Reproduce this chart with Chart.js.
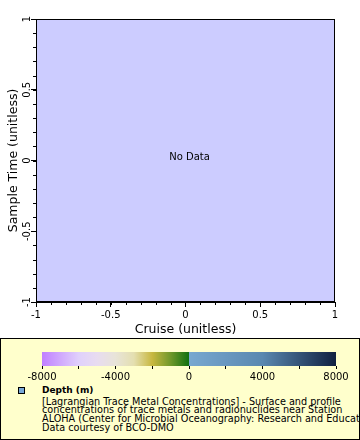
<!DOCTYPE html>
<html><head><meta charset="utf-8">
<script src="https://cdn.jsdelivr.net/npm/chart.js@4/dist/chart.umd.min.js"></script>
<style>
html,body{margin:0;padding:0;background:#fff;}
#wrap{position:relative;width:360px;height:440px;overflow:hidden;font-family:"DejaVu Sans",sans-serif;color:#000;}
#main{position:absolute;left:0;top:0;}
#legend{position:absolute;left:0;top:338px;width:358px;height:100px;border:1px solid #000;background:#ffffcc;overflow:hidden;}
#cbar{position:absolute;left:-1px;top:0;}
.ln{position:absolute;left:41px;font-size:9.7px;line-height:9px;white-space:nowrap;}
#mark{position:absolute;left:17px;top:48px;width:5px;height:5px;border:1px solid #000;background:#78a8d8;}
</style></head>
<body>
<div id="wrap">
<canvas id="main" width="360" height="338"></canvas>
<div id="legend">
<canvas id="cbar" width="360" height="46"></canvas>
<div id="mark"></div>
<div class="ln" style="top:47px;font-weight:bold;font-size:9px;">Depth (m)</div>
<div class="ln" style="top:57.5px;">[Lagrangian Trace Metal Concentrations] - Surface and profile</div>
<div class="ln" style="top:66.2px;">concentrations of trace metals and radionuclides near Station</div>
<div class="ln" style="top:74.9px;">ALOHA (Center for Microbial Oceanography: Research and Education)</div>
<div class="ln" style="top:83.6px;">Data courtesy of BCO-DMO</div>
</div>
</div>
<script>
// ---- data (no data points in this query) ----
const cruise = [];
const sampleTime = [];
const depth = [];
const xTickValues = [-1, -0.5, 0, 0.5, 1];
const yTickValues = [-1, -0.5, 0, 0.5, 1];
const minorStep = 0.1;
const cbarTickValues = [-8000, -6000, -4000, -2000, 0, 2000, 4000, 6000, 8000];
const cbarLabelValues = [-8000, -4000, 0, 4000, 8000];
const landStops = [-8000, -6000, -5000, -4000, -3000, -2000, -1000, 0];
const landColors = ['#c080ff', '#e0d0fc', '#e8dcf0', '#e8e4d8', '#e4dfb0', '#c8b840', '#70982a', '#107010'];
const oceanStops = [0, 4000, 8000];
const oceanColors = ['#78a8d0', '#5a88b0', '#102040'];

const FONT = 'DejaVu Sans';
function fmt(v){ return String(Math.round(v*10)/10); }

const plotPlugin = {
  id: 'plotPlugin',
  beforeDraw(chart){
    const {ctx, chartArea:a} = chart;
    ctx.save();
    ctx.fillStyle = '#ccccff';
    ctx.fillRect(a.left, a.top, a.right-a.left, a.bottom-a.top);
    ctx.restore();
  },
  afterDraw(chart){
    const {ctx, chartArea:a, scales} = chart;
    const xs = scales.x, ys = scales.y;
    ctx.save();
    ctx.strokeStyle = '#000'; ctx.lineWidth = 1;
    ctx.strokeRect(Math.round(a.left)+0.5, Math.round(a.top)+0.5, Math.round(a.right-a.left)-1, Math.round(a.bottom-a.top)-1);
    // minor ticks
    ctx.beginPath();
    for (let v = xs.min; v <= xs.max + 1e-9; v += minorStep){
      const px = Math.round(xs.getPixelForValue(v)) + 0.5;
      ctx.moveTo(px, a.bottom); ctx.lineTo(px, a.bottom + 3);
    }
    for (let v = ys.min; v <= ys.max + 1e-9; v += minorStep){
      const py = Math.round(ys.getPixelForValue(v)) + 0.5;
      ctx.moveTo(a.left, py); ctx.lineTo(a.left - 3, py);
    }
    ctx.stroke();
    // y tick labels rotated
    ctx.fillStyle = '#000';
    ctx.font = '10px "' + FONT + '"';
    ctx.textAlign = 'center'; ctx.textBaseline = 'middle';
    yTickValues.forEach(v => {
      const py = ys.getPixelForValue(v);
      ctx.save();
      ctx.translate(27, py);
      ctx.rotate(-Math.PI/2);
      ctx.fillText(fmt(v), 0, 0);
      ctx.restore();
    });
    if (cruise.length === 0){
      ctx.font = '10px "' + FONT + '"';
      ctx.textAlign = 'center';
      ctx.fillText('No Data', (a.left + a.right)/2 + 4, (a.top + a.bottom)/2 - 3);
    }
    ctx.restore();
  }
};

new Chart(document.getElementById('main'), {
  type: 'scatter',
  data: { datasets: [{ data: cruise.map((c,i)=>({x:c, y:sampleTime[i]})), pointRadius: 3 }] },
  options: {
    responsive: false, animation: false, devicePixelRatio: 1,
    layout: { padding: { top: 19, right: 25, left: 0, bottom: 0 } },
    plugins: { legend: { display: false }, tooltip: { enabled: false } },
    scales: {
      x: {
        type: 'linear', min: -1, max: 1,
        afterBuildTicks: s => { s.ticks = xTickValues.map(v => ({ value: v })); },
        ticks: { color: '#000', font: { family: FONT, size: 10 }, padding: 2, maxRotation: 0, autoSkip: false, callback: v => fmt(v) },
        grid: { drawOnChartArea: false, drawTicks: true, tickLength: 5, color: '#000' },
        border: { display: true, color: '#000' },
        title: { display: true, text: 'Cruise (unitless)', color: '#000', font: { family: FONT, size: 12.5 }, padding: { top: 0, bottom: 1 } },
        afterFit: s => { s.height = 36; }
      },
      y: {
        type: 'linear', min: -1, max: 1,
        afterBuildTicks: s => { s.ticks = yTickValues.map(v => ({ value: v })); },
        ticks: { display: false },
        grid: { drawOnChartArea: false, drawTicks: true, tickLength: 5, color: '#000' },
        border: { display: true, color: '#000' },
        title: { display: true, text: 'Sample Time (unitless)', color: '#000', font: { family: FONT, size: 12.5 }, padding: { top: 6, bottom: 0 } },
        afterFit: s => { s.width = 36; }
      }
    }
  },
  plugins: [plotPlugin]
});

// ---- colour bar ----
const cbarPlugin = {
  id: 'cbarPlugin',
  beforeDatasetsDraw(chart){
    const {ctx, chartArea:a, scales} = chart;
    const xs = scales.x;
    const x0 = xs.getPixelForValue(landStops[0]);
    const xm = xs.getPixelForValue(0);
    const x1 = xs.getPixelForValue(oceanStops[oceanStops.length-1]);
    ctx.save();
    let g = ctx.createLinearGradient(x0, 0, xm, 0);
    landStops.forEach((v,i) => g.addColorStop((xs.getPixelForValue(v)-x0)/(xm-x0), landColors[i]));
    ctx.fillStyle = g;
    ctx.fillRect(x0, a.top, xm-x0, a.bottom-a.top);
    g = ctx.createLinearGradient(xm, 0, x1, 0);
    oceanStops.forEach((v,i) => g.addColorStop((xs.getPixelForValue(v)-xm)/(x1-xm), oceanColors[i]));
    ctx.fillStyle = g;
    ctx.fillRect(xm, a.top, x1-xm, a.bottom-a.top);
    ctx.restore();
  }
};

new Chart(document.getElementById('cbar'), {
  type: 'scatter',
  data: { datasets: [{ data: depth.map((d,i)=>({x:d, y:0})) }] },
  options: {
    responsive: false, animation: false, devicePixelRatio: 1,
    layout: { padding: { top: 13, right: 24, left: 0, bottom: 0 } },
    plugins: { legend: { display: false }, tooltip: { enabled: false } },
    scales: {
      x: {
        type: 'linear', min: -8000, max: 8000,
        afterBuildTicks: s => { s.ticks = cbarTickValues.map(v => ({ value: v })); },
        ticks: { color: '#000', font: { family: FONT, size: 10 }, padding: 2, maxRotation: 0, autoSkip: false,
                 callback: v => cbarLabelValues.includes(v) ? String(v) : '' },
        grid: { drawOnChartArea: false, drawTicks: true, tickLength: 3, color: '#000' },
        border: { display: false },
        afterFit: s => { s.height = 19; }
      },
      y: { display: true, min: 0, max: 1, ticks: { display: false }, grid: { display: false }, border: { display: false },
           afterFit: s => { s.width = 42; } }
    }
  },
  plugins: [cbarPlugin]
});
</script>
</body></html>
